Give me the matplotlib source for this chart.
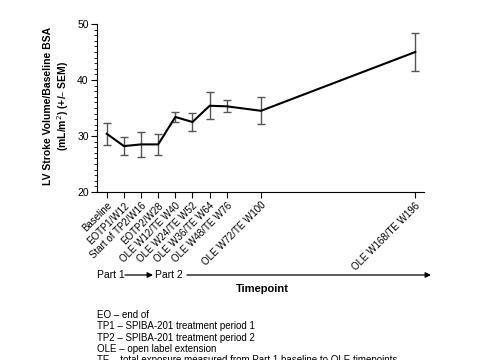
import matplotlib

matplotlib.use("Agg")
import matplotlib.pyplot as plt
from matplotlib.patches import FancyArrowPatch
from matplotlib.ticker import MultipleLocator

plt.rcParams["font.family"] = ["Liberation Sans", "DejaVu Sans"]

# timepoints (position on the x axis follows the original spacing)
labels = [
    "Baseline",
    "EOTP1/W12",
    "Start of TP2/W16",
    "EOTP2/W28",
    "OLE W12/TE W40",
    "OLE W24/TE W52",
    "OLE W36/TE W64",
    "OLE W48/TE W76",
    "OLE W72/TE W100",
    "OLE W168/TE W196",
]
x_pos = [0, 1, 2, 3, 4, 5, 6, 7, 9, 18]
mean = [30.4, 28.2, 28.5, 28.5, 33.4, 32.5, 35.4, 35.3, 34.5, 45.0]
sem = [2.0, 1.65, 2.3, 1.85, 0.85, 1.65, 2.45, 1.1, 2.4, 3.35]

footnotes = [
    "EO \u2013 end of",
    "TP1 \u2013 SPIBA-201 treatment period 1",
    "TP2 \u2013 SPIBA-201 treatment period 2",
    "OLE \u2013 open label extension",
    "TE \u2013 total exposure measured from Part 1 baseline to OLE timepoints",
]

W, H = 485, 360
fig = plt.figure(figsize=(W / 100, H / 100), dpi=100)
ax = fig.add_axes([97 / W, 1 - 192 / H, (424 - 97) / W, (192 - 24) / H])

ax.errorbar(x_pos, mean, yerr=sem, fmt="none", ecolor="#555555", elinewidth=1.0,
            capsize=3, capthick=1.0, zorder=2)
ax.plot(x_pos, mean, color="black", lw=1.5, zorder=3)

ax.set_xlim(-0.57, 18.51)
ax.set_ylim(20, 50)
ax.set_xticks(x_pos)
ax.set_xticklabels(labels, rotation=45, ha="right", rotation_mode="anchor", fontsize=7)
ax.set_yticks([20, 30, 40, 50])
ax.yaxis.set_minor_locator(MultipleLocator(1))
ax.tick_params(axis="y", labelsize=7.5, length=4, width=0.8, pad=2)
ax.tick_params(axis="y", which="minor", length=2.5, width=0.6)
ax.tick_params(axis="x", length=4, width=0.8, pad=2)
for s in ("top", "right"):
    ax.spines[s].set_visible(False)
for s in ("left", "bottom"):
    ax.spines[s].set_linewidth(0.8)


def fx(px):
    return px / W


def fy(py):
    return 1 - py / H


fig.text(fx(57), fy(106), "LV Stroke Volume/Baseline BSA\n(mL/m$^2$) (+/\u2013 SEM)",
         rotation=90, ha="center", va="center", fontsize=7.5, fontweight="bold",
         multialignment="center", linespacing=1.2)

# Part 1 -> Part 2 arrows
fig.text(fx(97), fy(275), "Part 1", ha="left", va="center", fontsize=7.5)
fig.text(fx(155), fy(275), "Part 2", ha="left", va="center", fontsize=7.5)
arrow = dict(arrowstyle="-|>", color="black", lw=0.9, mutation_scale=8, shrinkA=0, shrinkB=0)
fig.add_artist(FancyArrowPatch((fx(125), fy(275)), (fx(153), fy(275)),
                               transform=fig.transFigure, **arrow))
fig.add_artist(FancyArrowPatch((fx(187), fy(275)), (fx(431), fy(275)),
                               transform=fig.transFigure, **arrow))

fig.text(fx(262), fy(289), "Timepoint", ha="center", va="center", fontsize=8, fontweight="bold")

for i, line in enumerate(footnotes):
    fig.text(fx(97), fy(315 + i * 11.3), line, ha="left", va="center", fontsize=7)

fig.savefig("out.png", dpi=100)
